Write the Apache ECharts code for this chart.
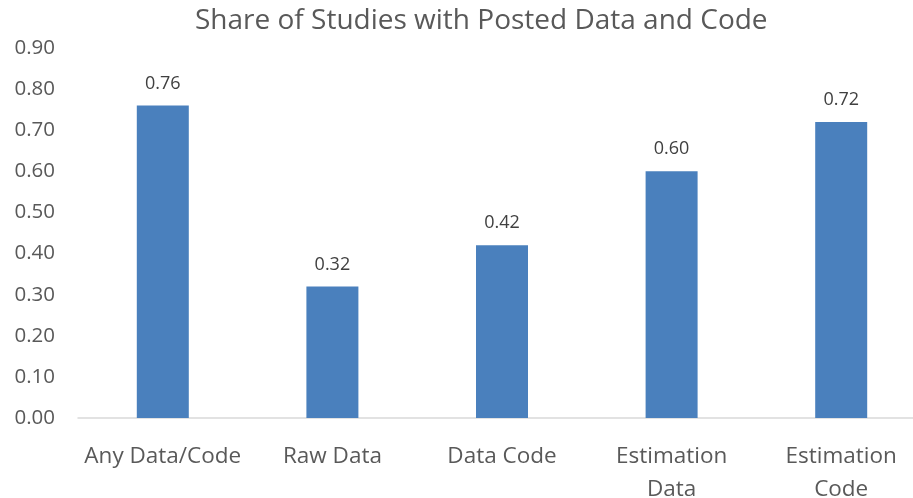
<!DOCTYPE html>
<html>
<head>
<meta charset="utf-8">
<script src="https://cdn.jsdelivr.net/npm/echarts@6/dist/echarts.min.js"></script>
<style>
  html, body { margin: 0; padding: 0; background: #fff; }
  #chart { width: 913px; height: 498px; }
</style>
</head>
<body>
<div id="chart"></div>
<script>
const categories = ['Any Data/Code', 'Raw Data', 'Data Code', 'Estimation\nData', 'Estimation\nCode']
const shares = [0.76, 0.32, 0.42, 0.60, 0.72]
const yTicks = { min: 0, max: 0.9, step: 0.1 }

const chart = echarts.init(document.getElementById('chart'))
const font = '"Open Sans", "Noto Sans", sans-serif'

chart.setOption({
  animation: false,
  title: {
    text: 'Share of Studies with Posted Data and Code',
    left: 190,
    top: 2,
    textStyle: { fontFamily: font, fontSize: 28, fontWeight: 'normal', color: '#595959' }
  },
  grid: { left: 78, right: -13, top: 48, bottom: 80, outerBoundsMode: 'none' },
  xAxis: {
    type: 'category',
    data: categories,
    axisLine: { lineStyle: { color: '#d9d9d9', width: 1.5 } },
    axisTick: { show: false },
    axisLabel: {
      interval: 0, fontFamily: font, fontSize: 22.5, color: '#595959',
      margin: 22, lineHeight: 33, hideOverlap: false
    }
  },
  yAxis: {
    type: 'value',
    min: yTicks.min,
    max: yTicks.max,
    interval: yTicks.step,
    splitLine: { show: false },
    axisLine: { show: false },
    axisTick: { show: false },
    axisLabel: {
      fontFamily: font, fontSize: 20.5, color: '#595959', margin: 23,
      formatter: v => v.toFixed(2)
    }
  },
  series: [{
    type: 'bar',
    data: shares,
    barWidth: 52,
    itemStyle: { color: '#4a80bd' },
    label: {
      show: true,
      position: 'top',
      distance: 13,
      fontFamily: font,
      fontSize: 18,
      color: '#404040',
      formatter: p => p.value.toFixed(2)
    }
  }]
})
</script>
</body>
</html>
